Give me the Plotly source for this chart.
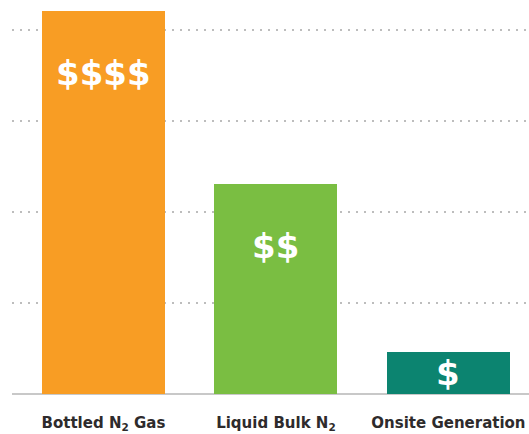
import plotly.graph_objects as go

categories = ["Bottled N<sub>2</sub> Gas", "Liquid Bulk N<sub>2</sub>", "Onsite Generation"]
values = [4.21, 2.31, 0.46]
labels = ["$$$$", "$$", "$"]
colors = ["#F89D24", "#7ABE42", "#0C8470"]

fig = go.Figure()
fig.add_trace(go.Bar(
    x=list(range(len(categories))), y=values,
    marker=dict(color=colors, line=dict(width=0)),
    width=0.713, hoverinfo="skip",
))

for i, (v, t) in enumerate(zip(values, labels)):
    ypos = v - 0.68 if v > 1.4 else v / 2
    fig.add_annotation(x=i, y=ypos, text=t, showarrow=False,
                       font=dict(family="DejaVu Sans", size=34, color="white", weight=700),
                       xanchor="center", yanchor="middle")

fig.update_layout(
    width=529, height=434,
    margin=dict(l=12, r=0, t=3, b=40),
    plot_bgcolor="white", paper_bgcolor="white",
    showlegend=False,
    bargap=0,
    xaxis=dict(
        range=[-0.53, 2.467], automargin=False,
        tickmode="array", tickvals=list(range(len(categories))), ticktext=categories,
        showgrid=False, zeroline=False,
        showline=False,
        ticks="outside", ticklen=15, tickcolor="rgba(0,0,0,0)",
        tickfont=dict(family="DejaVu Sans", size=15, color="#2e2b2c", weight=700),
    ),
    yaxis=dict(
        range=[0, 4.297], dtick=1, tick0=0, automargin=False,
        showticklabels=False,
        showgrid=True, gridcolor="#bdbdbd", gridwidth=2, griddash="2px,6px",
        zeroline=True, zerolinecolor="#c8c8c8", zerolinewidth=1.5,
    ),
)

fig.write_html("out.html", config={"displayModeBar": False},
               post_script="document.body.style.margin='0';")
